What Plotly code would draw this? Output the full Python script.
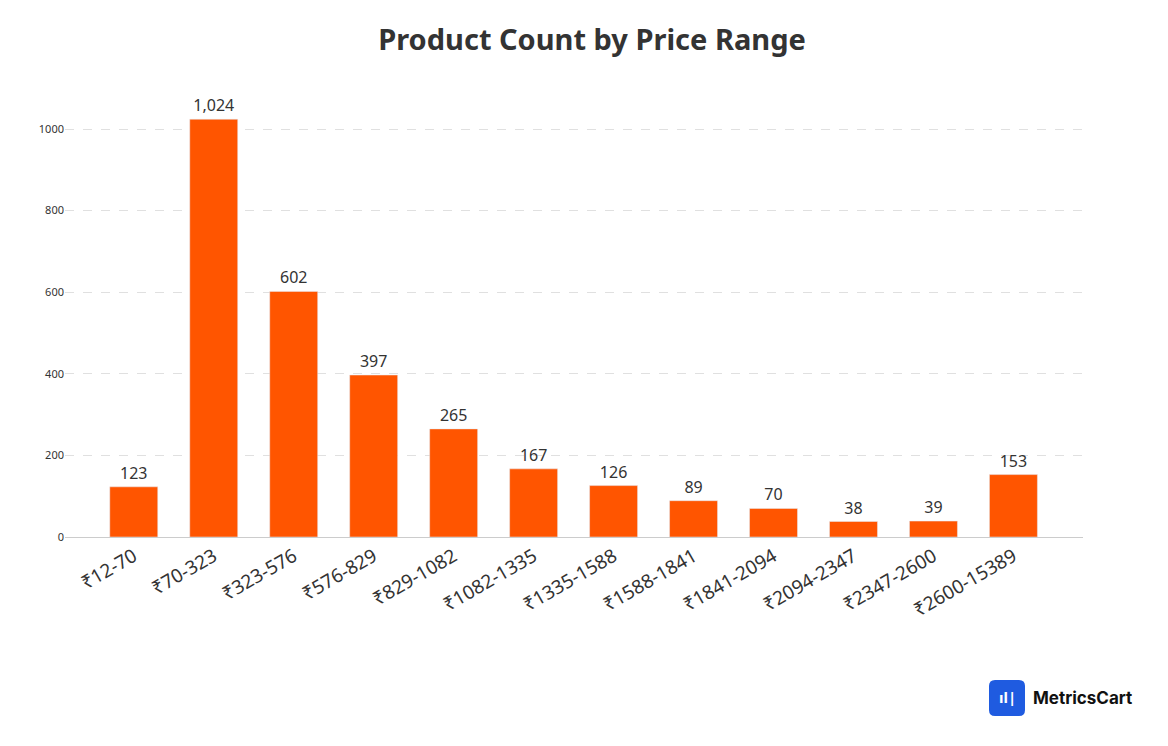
import plotly.graph_objects as go

categories = ["₹12-70","₹70-323","₹323-576","₹576-829","₹829-1082","₹1082-1335","₹1335-1588",
              "₹1588-1841","₹1841-2094","₹2094-2347","₹2347-2600","₹2600-15389"]
counts = [123,1024,602,397,265,167,126,89,70,38,39,153]

W, H = 1168, 746
O = 8  # page offset
L, R, T, B = 65 - O, 85 + O, 80 - O, 209 + O
pw, ph = W - L - R, H - T - B

def px(x): return (x - O - L) / pw
def py(y): return (H - B - (y - O)) / ph

fig = go.Figure(go.Bar(
    x=list(range(len(categories))), y=counts, marker_color="#FF5500", width=0.6,
    text=[f"{v:,}" for v in counts], textposition="outside", cliponaxis=False,
    textfont=dict(size=16, color="#333333", family="Noto Sans"),
))
fig.update_layout(
    width=W, height=H, plot_bgcolor="white", paper_bgcolor="white",
    margin=dict(l=L, r=R, t=T, b=B),
    title=dict(text="<b>Product Count by Price Range</b>", x=0.5, xanchor="center", y=1-(40-O)/H,
               yanchor="middle", font=dict(size=29, color="#333333", family="Noto Sans")),
    font=dict(family="Noto Sans", color="#333333"),
    showlegend=False,
)
fig.update_yaxes(range=[0, 1000*ph/408], tickvals=[0,200,400,600,800,1000], gridcolor="#e0e0e0",
                 griddash="dash", tickfont=dict(size=11), zeroline=False, ticks="", ticklen=0)
fig.update_xaxes(range=[-0.86, 11.87], tickvals=list(range(len(categories))), ticktext=categories,
                 tickangle=-30, tickfont=dict(size=19), showline=True, linecolor="#cccccc",
                 showgrid=False)
# logo
fig.add_shape(type="path", xref="paper", yref="paper",
              path=f"M {px(995)},{py(680)} L {px(1019)},{py(680)} Q {px(1025)},{py(680)} {px(1025)},{py(686)} "
                   f"L {px(1025)},{py(710)} Q {px(1025)},{py(716)} {px(1019)},{py(716)} L {px(995)},{py(716)} "
                   f"Q {px(989)},{py(716)} {px(989)},{py(710)} L {px(989)},{py(686)} Q {px(989)},{py(680)} {px(995)},{py(680)} Z",
              fillcolor="#1F5BE0", line=dict(width=0))
fig.add_annotation(xref="paper", yref="paper", x=px(1007), y=py(697), xanchor="center",
                   yanchor="middle", showarrow=False, text="<b>ıl|</b>",
                   font=dict(size=15, color="white"))
fig.add_annotation(xref="paper", yref="paper", x=px(1031), y=py(698), xanchor="left",
                   yanchor="middle", showarrow=False, text="<b>MetricsCart</b>",
                   font=dict(size=17, color="#111111", family="Inter"))
fig.write_html("out.html")
